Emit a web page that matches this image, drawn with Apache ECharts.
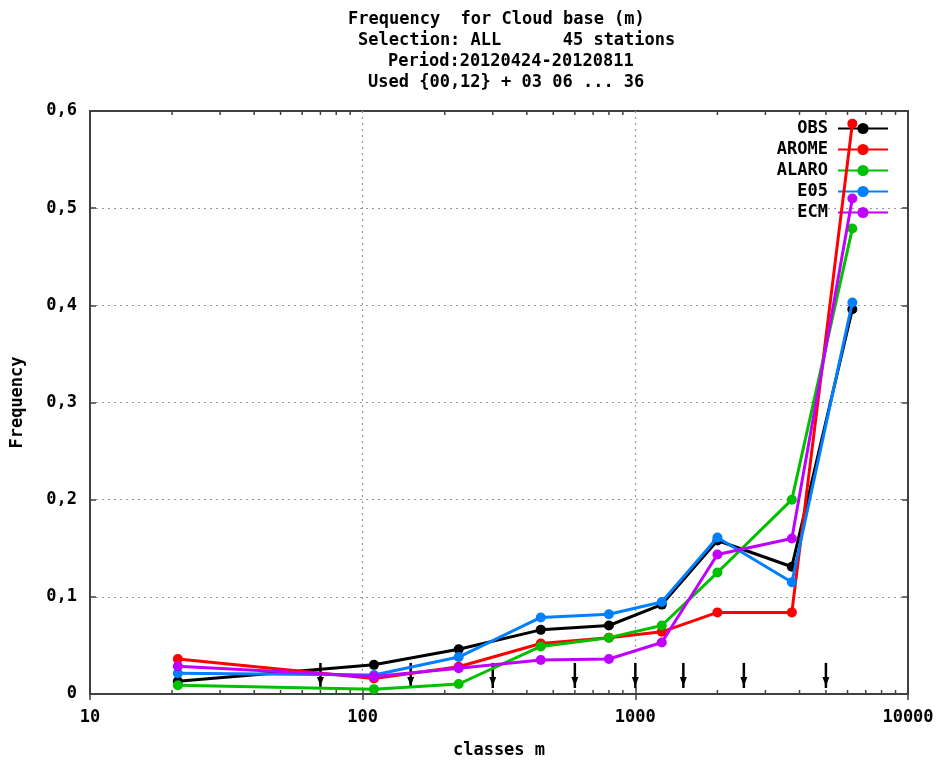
<!DOCTYPE html>
<html>
<head>
<meta charset="utf-8">
<script src="https://cdn.jsdelivr.net/npm/echarts@6/dist/echarts.min.js"></script>
<style>
html,body{margin:0;padding:0;background:#fff;overflow:hidden;}
#chart{width:938px;height:760px;}
</style>
</head>
<body>
<div id="chart"></div>
<script>
// ---- data ----
var classMid = [21, 110, 225, 450, 800, 1250, 2000, 3750, 6250];
var obs   = [0.013, 0.030, 0.046, 0.066, 0.0705, 0.092, 0.158, 0.131, 0.396];
var arome = [0.036, 0.016, 0.028, 0.052, 0.058, 0.064, 0.084, 0.084, 0.587];
var alaro = [0.009, 0.005, 0.0103, 0.049, 0.058, 0.0705, 0.125, 0.200, 0.479];
var e05   = [0.0214, 0.0196, 0.038, 0.0788, 0.082, 0.0947, 0.161, 0.115, 0.403];
var ecm   = [0.0285, 0.018, 0.0265, 0.035, 0.036, 0.053, 0.1435, 0.160, 0.510];
var classBounds = [70, 150, 300, 600, 1000, 1500, 2500, 5000];
var seriesNames = ['OBS', 'AROME', 'ALARO', 'E05', 'ECM'];
var seriesColors = ['#000000', '#ff0000', '#00c000', '#0080ff', '#c000ff'];
var xTickLabels = ['10', '100', '1000', '10000'];
var titleLines = [
  'Frequency  for Cloud base (m)',
  'Selection: ALL      45 stations',
  'Period:20120424-20120811',
  'Used {00,12} + 03 06 ... 36'
];

// minor tick positions (2..9 per decade)
var minorTicks = [];
[10, 100, 1000].forEach(function (d) {
  for (var k = 2; k <= 9; k++) minorTicks.push(k * d);
});

var FONT = "'DejaVu Sans Mono', monospace";
var AXIS_COLOR = '#404040';

function pairs(ys) { return classMid.map(function (x, i) { return [x, ys[i]]; }); }
var allData = [obs, arome, alaro, e05, ecm];

var lineSeries = seriesNames.map(function (n, i) {
  return {
    name: n,
    type: 'line',
    data: pairs(allData[i]),
    symbol: 'circle',
    symbolSize: 10,
    showSymbol: true,
    color: seriesColors[i],
    lineStyle: { width: 3, color: seriesColors[i] },
    itemStyle: { color: seriesColors[i] },
    z: 3 + i,
    animation: false
  };
});

var minorTickSeries = {
  type: 'custom',
  data: minorTicks.map(function (v) { return [v]; }),
  silent: true,
  z: 2,
  renderItem: function (params, api) {
    var v = api.value(0);
    var b = api.coord([v, 0]);
    var t = api.coord([v, 0.6]);
    var st = { stroke: AXIS_COLOR, lineWidth: 1.5 };
    return {
      type: 'group',
      children: [
        { type: 'line', shape: { x1: b[0], y1: b[1], x2: b[0], y2: b[1] - 4 }, style: st },
        { type: 'line', shape: { x1: t[0], y1: t[1], x2: t[0], y2: t[1] + 4 }, style: st }
      ]
    };
  }
};

var arrowSeries = {
  type: 'custom',
  data: classBounds.map(function (v) { return [v]; }),
  silent: true,
  z: 2,
  renderItem: function (params, api) {
    var v = api.value(0);
    var top = api.coord([v, 0.032]);
    var bot = api.coord([v, 0.0062]);
    var tipY = bot[1] - 2;
    var st = { stroke: '#000', lineWidth: 2.5 };
    return {
      type: 'group',
      children: [
        { type: 'line', shape: { x1: top[0], y1: top[1], x2: bot[0], y2: bot[1] }, style: st },
        { type: 'polygon', shape: { points: [[top[0] - 3.5, tipY - 9], [top[0] + 3.5, tipY - 9], [top[0], tipY]] }, style: { fill: '#000' } }
      ]
    };
  }
};

var titles = titleLines.map(function (t, i) {
  var lefts = [343, 353, 383, 363];
  return {
    text: t,
    left: lefts[i],
    top: 6.5 + i * 20.7,
    textStyle: { fontFamily: FONT, fontSize: 17, fontWeight: 'bold', color: '#000' }
  };
});

var chart = echarts.init(document.getElementById('chart'), null, { renderer: 'canvas' });
chart.setOption({
  animation: false,
  backgroundColor: '#fff',
  title: titles,
  grid: { left: 90, right: 30, top: 111, bottom: 66, containLabel: false, outerBoundsMode: 'none',
          show: true, borderColor: AXIS_COLOR, borderWidth: 2, backgroundColor: 'transparent' },
  legend: {
    orient: 'vertical',
    right: 44,
    top: 115,
    align: 'right',
    itemWidth: 50,
    itemHeight: 14,
    itemGap: 4,
    data: seriesNames,
    formatter: function (name) {
      while (name.length < 5) name = ' ' + name;
      return name;
    },
    textStyle: { fontFamily: FONT, fontSize: 17, fontWeight: 'bold', color: '#000', padding: [0, 5, 0, 0] },
    selectedMode: false
  },
  xAxis: [{
    type: 'log',
    logBase: 10,
    min: 10,
    max: 10000,
    name: 'classes m',
    nameLocation: 'middle',
    nameGap: 48,
    nameTextStyle: { fontFamily: FONT, fontSize: 17, fontWeight: 'bold', color: '#000' },
    axisLine: { show: true, lineStyle: { color: AXIS_COLOR, width: 2 } },
    axisTick: { show: true, inside: true, length: 6, lineStyle: { color: AXIS_COLOR, width: 1.5 } },
    axisLabel: {
      fontFamily: FONT, fontSize: 17, fontWeight: 'bold', color: '#000', margin: 15,
      formatter: function (v) {
        var idx = Math.round(Math.log(v) / Math.LN10) - 1;
        return xTickLabels[idx] !== undefined ? xTickLabels[idx] : '';
      }
    },
    splitLine: { show: true, showMinLine: false, showMaxLine: false,
                 lineStyle: { color: '#999', type: [2, 4], width: 1.2 } }
  }, {
    type: 'log',
    logBase: 10,
    min: 10,
    max: 10000,
    position: 'top',
    axisLine: { show: true, lineStyle: { color: AXIS_COLOR, width: 2 } },
    axisTick: { show: true, inside: true, length: 6, lineStyle: { color: AXIS_COLOR, width: 1.5 } },
    axisLabel: { show: false },
    splitLine: { show: false }
  }],
  yAxis: [{
    type: 'value',
    min: 0,
    max: 0.6,
    interval: 0.1,
    name: 'Frequency',
    nameLocation: 'middle',
    nameGap: 64,
    nameRotate: 90,
    nameTextStyle: { fontFamily: FONT, fontSize: 17, fontWeight: 'bold', color: '#000' },
    axisLine: { show: true, lineStyle: { color: AXIS_COLOR, width: 2 } },
    axisTick: { show: true, inside: true, length: 6, lineStyle: { color: AXIS_COLOR, width: 1.5 } },
    axisLabel: {
      fontFamily: FONT, fontSize: 17, fontWeight: 'bold', color: '#000', margin: 13,
      formatter: function (v) { return v === 0 ? '0' : v.toFixed(1).replace('.', ','); }
    },
    splitLine: { show: true, showMinLine: false, showMaxLine: false,
                 lineStyle: { color: '#999', type: [2, 4], width: 1.2 } }
  }, {
    type: 'value',
    min: 0,
    max: 0.6,
    interval: 0.1,
    position: 'right',
    axisLine: { show: true, lineStyle: { color: AXIS_COLOR, width: 2 } },
    axisTick: { show: true, inside: true, length: 6, lineStyle: { color: AXIS_COLOR, width: 1.5 } },
    axisLabel: { show: false },
    splitLine: { show: false }
  }],
  series: [minorTickSeries, arrowSeries].concat(lineSeries)
});
</script>
</body>
</html>
